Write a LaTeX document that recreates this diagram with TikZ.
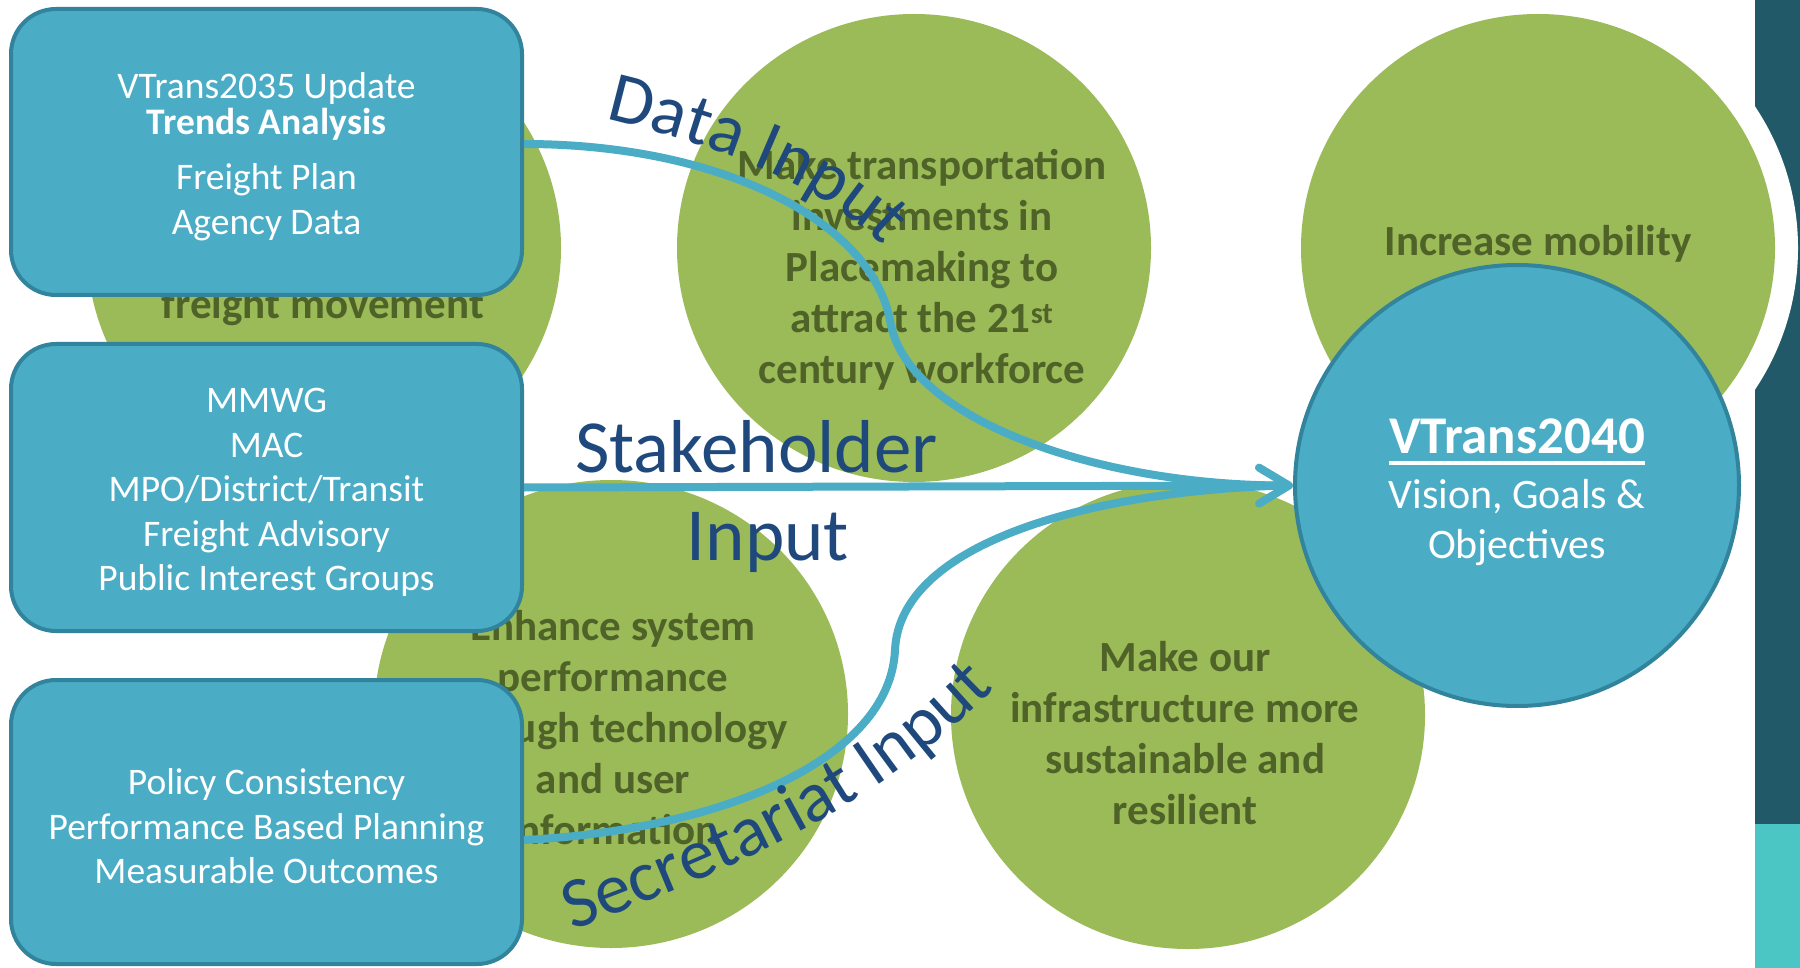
\documentclass[tikz,border=0pt]{standalone}
\usepackage{fontspec}
\setmainfont{Carlito}
\usetikzlibrary{shapes.geometric,arrows.meta,decorations.text}
\definecolor{aimgreen}{HTML}{9BBB59}
\definecolor{aimtext}{HTML}{4F6228}
\definecolor{boxblue}{HTML}{4BACC6}
\definecolor{boxedge}{HTML}{31849B}
\definecolor{lblblue}{HTML}{1F497D}
\definecolor{bardark}{HTML}{215968}
\definecolor{barcyan}{HTML}{4BC6C4}
\newcommand\lblfont{\fontsize{75}{88}\selectfont}
\newcommand\curvefont{\fontsize{72}{88}\selectfont}
\newcommand\visionul[1]{\setbox0=\hbox{#1}\rlap{\rule[-11pt]{\wd0}{3.5pt}}\box0}
\newcommand\topgap{\rule{0pt}{35pt}}
\tikzset{
  aim/.style={ellipse, fill=aimgreen, inner sep=0pt, minimum width=474pt, minimum height=468pt},
  aimtxt/.style={text=aimtext, font=\fontsize{43}{51}\selectfont\bfseries, align=center},
  source/.style={rectangle, rounded corners=45pt, fill=boxblue, draw=boxedge, line width=4pt,
    text=white, align=center, font=\fontsize{37.5}{44.5}\selectfont, minimum width=511pt},
  vision/.style={ellipse, fill=boxblue, draw=boxedge, line width=4pt, inner sep=0pt,
    minimum width=444pt, minimum height=441pt},
  link/.style={draw=boxblue, line width=8pt},
  flowlabel/.style={text=lblblue, font=\lblfont, align=center},
}

\begin{document}
\begin{tikzpicture}[x=1pt, y=-1pt]
    \useasboundingbox (0,0) rectangle (1800,968);
    \fill[white] (0,0) rectangle (1800,968);
    % side bar
    \fill[bardark] (1755,0) rectangle (1800,824);
    \fill[barcyan] (1755,824) rectangle (1800,968);
    \fill[white] (1538,248) ellipse [x radius=260pt, y radius=257pt];

    % goals
    \node[aim] (g1) at (324,248) {};
    \node[aimtxt, anchor=base] at (323,319) {freight movement};
    \node[aim] (g2) at (914,248) {};
    \node[aimtxt] at (922,270) {Make transportation\\investments in\\Placemaking to\\attract the 21\textsuperscript{st}\\century workforce};
    \node[aim] (g3) at (1538,248) {};
    \node[aimtxt, anchor=base] at (1538,256) {Increase mobility};
    \node[aim] (g4) at (611,714) {};
    \node[aimtxt] at (613,728) {Enhance system\\performance\\through technology\\and user\\information};
    \node[aim] (g5) at (1188,715) {};
    \node[aimtxt] at (1185,733) {Make our\\infrastructure more\\sustainable and\\resilient};

    % inputs
    \node[source, minimum height=286pt] (data) at (266.5,152) {\topgap VTrans2035 Update\\[-9pt]\textbf{Trends Analysis}\\[11pt]Freight Plan\\Agency Data};
    \node[source, minimum height=287pt] (stake) at (266.5,487.5) {\topgap MMWG\\MAC\\MPO/District/Transit\\Freight Advisory\\Public Interest Groups};
    \node[source, minimum height=284pt] (secr) at (266.5,822) {\topgap Policy Consistency\\Performance Based Planning\\Measurable Outcomes};

    \node[vision] (goal) at (1517,485.5) {};
    \node[text=white, align=center, font=\fontsize{42}{50}\selectfont] at ([yshift=-7pt]goal.center)
        {{\fontsize{53}{55}\selectfont\bfseries\visionul{VTrans2040}}\\[5pt]Vision, Goals \&\\Objectives};

    % connectors
    \draw[link] ([yshift=8pt]data.east) .. controls (720,144) and (870,220) .. (890,320)
        .. controls (905,420) and (1100,486) .. ([xshift=-6pt]goal.west);
    \draw[link] ([yshift=-18pt]secr.east) .. controls (720,830) and (890,760) .. (895,650)
        .. controls (900,540) and (1100,490) .. ([xshift=-6pt]goal.west);
    \draw[link, -{Straight Barb[length=30pt, width=36pt, round]}] (stake.east) -- (goal.west);

    % labels
    \path[decorate, decoration={text along path, text={|\curvefont|Data Input}, text color=lblblue, text align=left}]
        (605,119) .. controls (717,146) and (857,190) .. (917,290);
    \node[flowlabel] at (756.5,497) {Stakeholder\\\hspace*{23pt}Input};
    \path[decorate, decoration={text along path, text={|\curvefont|Secretariat Input}, text color=lblblue, text align=left}]
        (572,930) .. controls (745,866) and (900,800) .. (1030,650);
\end{tikzpicture}
\end{document}
